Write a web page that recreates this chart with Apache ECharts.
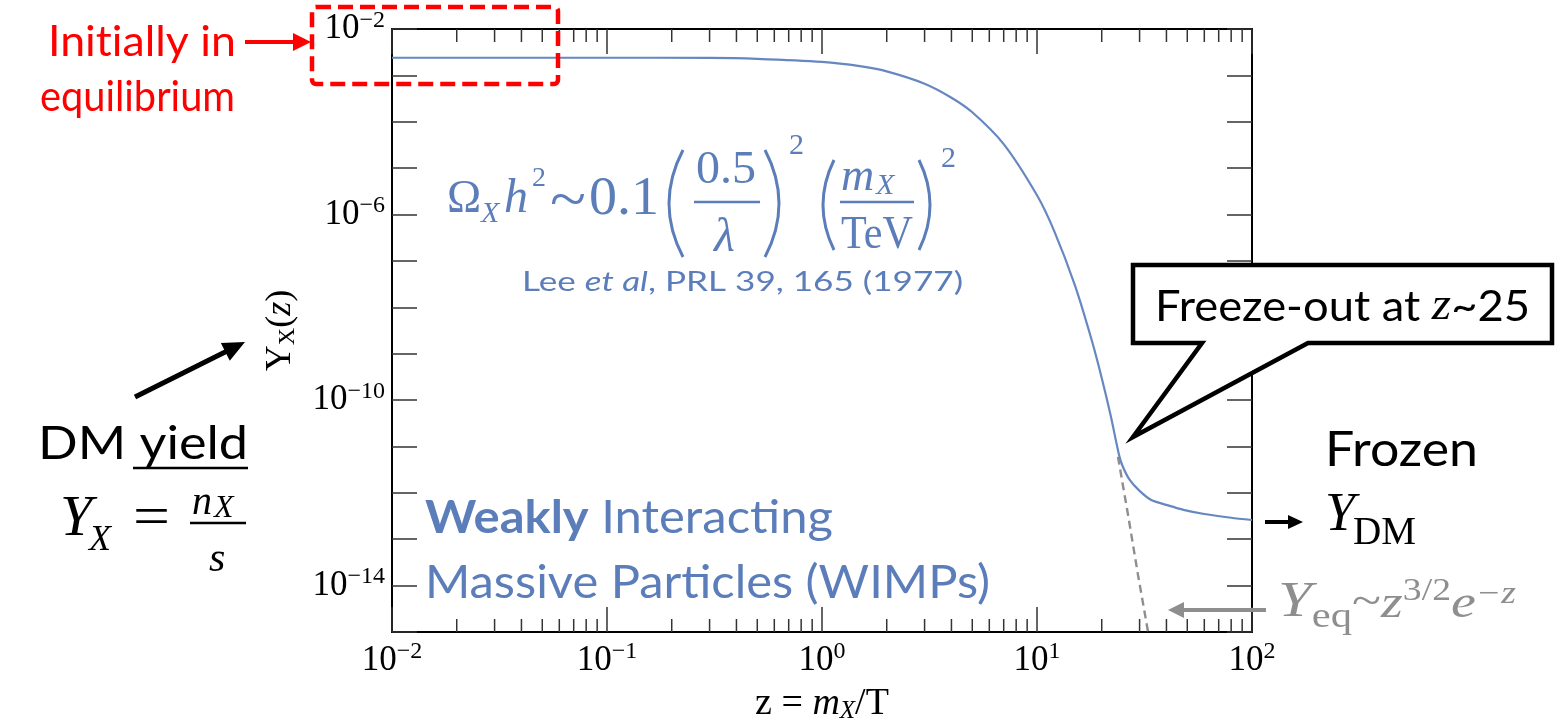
<!DOCTYPE html>
<html>
<head>
<meta charset="utf-8">
<script src="https://cdn.jsdelivr.net/npm/echarts@6/dist/echarts.min.js"></script>
<style>
  html, body { margin: 0; padding: 0; background: #fff; }
  #chart { width: 1555px; height: 724px; }
</style>
</head>
<body>
<div id="chart"></div>
<script>
// ---------------- data ----------------
// Relic abundance Y_X(z) of a WIMP versus z = m_X / T
const yieldZ = [0.01, 0.03, 0.1, 0.3, 0.5, 1, 1.5, 2, 3, 4, 5, 7, 10, 12, 15, 18, 20, 22, 24, 25, 27, 30, 34, 40, 48, 60, 80, 100];
const yieldY = [2.4e-3, 2.4e-3, 2.4e-3, 2.38e-3, 2.27e-3, 1.95e-3, 1.58e-3, 1.22e-3, 6.6e-4, 3.3e-4, 1.6e-4, 3.3e-5, 2.6e-6, 4.5e-7, 3.0e-8, 1.9e-9, 3.0e-10, 4.7e-11, 7e-12, 3.8e-12, 1.9e-12, 1.1e-12, 7e-13, 5.5e-13, 4.3e-13, 3.5e-13, 2.9e-13, 2.6e-13];
// Equilibrium abundance tail (dashed)
const eqZ = [23.8, 26.5, 29.5, 33.5];
const eqY = [6e-12, 3.4e-13, 1.7e-14, 6e-16];
// Axis ranges and labelled decades
const zRange = [0.01, 100];
const yRange = [1e-15, 1e-2];
const yLabelExponents = [-2, -6, -10, -14];
// Minor tick positions on the z axis (2..9 times each decade)
const zMinorTicks = [
  0.02, 0.03, 0.04, 0.05, 0.06, 0.07, 0.08, 0.09,
  0.2, 0.3, 0.4, 0.5, 0.6, 0.7, 0.8, 0.9,
  2, 3, 4, 5, 6, 7, 8, 9,
  20, 30, 40, 50, 60, 70, 80, 90
];

// ---------------- styling helpers ----------------
const SERIF = '"Liberation Serif", "Times New Roman", serif';
const SANS = 'Lato, "Open Sans", sans-serif';
const BLUE = '#5b7db9';
const LINE_BLUE = '#6687c0';
const GREY = '#8e8e8e';
const RED = '#ff0000';

const mctx = document.createElement('canvas').getContext('2d');
function fontStr(p) {
  return (p.style || 'normal') + ' ' + (p.weight || 'normal') + ' ' + p.size + 'px ' + p.family;
}
// Lay out a run of text pieces left to right; optionally stretch to a given width
function runText(x, cy, pieces, color, targetWidth) {
  const widths = pieces.map(p => { mctx.font = fontStr(p); return mctx.measureText(p.t).width; });
  const natural = widths.reduce((a, b) => a + b, 0);
  const k = targetWidth ? targetWidth / natural : 1;
  let cx = x;
  const out = [];
  pieces.forEach((p, i) => {
    cx += (p.dx || 0);
    out.push({
      type: 'text', x: cx, y: cy + (p.dy || 0), scaleX: k, silent: true, z: 100,
      style: {
        text: p.t, fontSize: p.size, fontFamily: p.family,
        fontStyle: p.style || 'normal', fontWeight: p.weight || 'normal',
        fill: p.fill || color,
        align: 'left', textAlign: 'left', verticalAlign: 'middle', textVerticalAlign: 'middle'
      }
    });
    cx += widths[i] * k;
  });
  return out;
}
function seg(x1, y1, x2, y2, color, w, dash) {
  return { type: 'line', silent: true, z: 100, shape: { x1, y1, x2, y2 },
    style: { stroke: color, lineWidth: w, lineDash: dash || null } };
}
function arrow(x1, y1, x2, y2, color, w, headLen, headHalf) {
  const dx = x2 - x1, dy = y2 - y1, L = Math.hypot(dx, dy);
  const ux = dx / L, uy = dy / L;
  const bx = x2 - ux * headLen, by = y2 - uy * headLen;
  return [
    seg(x1, y1, bx + ux * 2, by + uy * 2, color, w),
    { type: 'polygon', silent: true, z: 100,
      shape: { points: [[x2, y2], [bx - uy * headHalf, by + ux * headHalf], [bx + uy * headHalf, by - ux * headHalf]] },
      style: { fill: color } }
  ];
}
// A tall bracket drawn as a quadratic curve; bulge < 0 opens to the right
function paren(xTop, yTop, yBot, bulge, color, w) {
  const cy = (yTop + yBot) / 2;
  return { type: 'bezierCurve', silent: true, z: 100,
    shape: { x1: xTop, y1: yTop, x2: xTop, y2: yBot, cpx1: xTop + 2 * bulge, cpy1: cy },
    style: { stroke: color, lineWidth: w, fill: null } };
}
function powLabel(v) {
  const e = Math.round(Math.log10(v));
  return '{b|10}{s|' + (e < 0 ? '\u2212' : '') + Math.abs(e) + '}';
}

// ---------------- annotations ----------------
const graphics = [];
// red dashed box and "Initially in equilibrium"
graphics.push({ type: 'rect', silent: true, z: 100,
  shape: { x: 312, y: 7, width: 246, height: 77, r: 4 },
  style: { fill: null, stroke: RED, lineWidth: 4.5, lineDash: [15, 7] } });
graphics.push(...arrow(245, 42, 311, 42, RED, 4, 18, 9));
graphics.push(...runText(48, 42, [{ t: 'Init\u200Cially in', size: 42, family: SANS }], RED, 188));
graphics.push(...runText(40, 97, [{ t: 'equilibrium', size: 42, family: SANS }], RED, 195));

// DM yield
graphics.push(...arrow(135, 397, 245, 342, '#000', 5, 22, 10));
graphics.push(...runText(38, 444, [{ t: 'DM yield', size: 46, family: SANS }], '#000', 210));
graphics.push(seg(133, 468, 248, 468, '#000', 2.5));
graphics.push(...runText(60, 520, [{ t: 'Y', size: 58, family: SERIF, style: 'italic' }], '#000'));
graphics.push(...runText(89, 541, [{ t: 'X', size: 36, family: SERIF, style: 'italic' }], '#000'));
graphics.push(...runText(133, 520, [{ t: '=', size: 56, family: SERIF }], '#000', 37));
graphics.push(...runText(192, 503, [{ t: 'n', size: 40, family: SERIF, style: 'italic' }], '#000'));
graphics.push(...runText(214, 509, [{ t: 'X', size: 32, family: SERIF, style: 'italic' }], '#000'));
graphics.push(seg(190, 523, 246, 523, '#000', 2.5));
graphics.push(...runText(209, 560, [{ t: 's', size: 42, family: SERIF, style: 'italic' }], '#000'));

// relic density formula
graphics.push(...runText(447, 200, [{ t: '\u03A9', size: 46, family: SERIF }], BLUE));
graphics.push(...runText(481, 214, [{ t: 'X', size: 30, family: SERIF, style: 'italic' }], BLUE));
graphics.push(...runText(504, 199, [{ t: 'h', size: 48, family: SERIF, style: 'italic' }], BLUE));
graphics.push(...runText(532, 179, [{ t: '2', size: 28, family: SERIF }], BLUE));
graphics.push(...runText(550, 203, [{ t: '~', size: 62, family: SERIF }], BLUE, 36));
graphics.push(...runText(589, 200, [{ t: '0.1', size: 54, family: SERIF }], BLUE, 70));
graphics.push(paren(683, 150, 257, -14, BLUE, 3));
graphics.push(...runText(696, 171, [{ t: '0.5', size: 46, family: SERIF }], BLUE, 60));
graphics.push(seg(694, 202, 760, 202, BLUE, 2.5));
graphics.push(...runText(714, 238, [{ t: '\u03BB', size: 48, family: SERIF, style: 'italic' }], BLUE));
graphics.push(paren(765, 150, 257, 14, BLUE, 3));
graphics.push(...runText(789, 146, [{ t: '2', size: 30, family: SERIF }], BLUE));
graphics.push(paren(834, 160, 250, -11, BLUE, 3));
graphics.push(...runText(841, 178, [{ t: 'm', size: 46, family: SERIF, style: 'italic' }], BLUE));
graphics.push(...runText(876, 186, [{ t: 'X', size: 30, family: SERIF, style: 'italic' }], BLUE));
graphics.push(seg(840, 202, 914, 202, BLUE, 2.5));
graphics.push(...runText(841, 236, [{ t: 'TeV', size: 46, family: SERIF }], BLUE, 72));
graphics.push(paren(919, 160, 250, 11, BLUE, 3));
graphics.push(...runText(941, 159, [{ t: '2', size: 30, family: SERIF }], BLUE));
graphics.push(...runText(522, 282, [
  { t: 'Lee ', size: 27, family: SANS },
  { t: 'et al', size: 27, family: SANS, style: 'italic' },
  { t: ', PRL 39, 165 (1977)', size: 27, family: SANS }
], BLUE, 441));

// WIMP caption
graphics.push(...runText(425, 518, [
  { t: 'Weakly', size: 46, family: SANS, weight: 'bold' },
  { t: ' Interacting', size: 46, family: SANS }
], BLUE, 408));
graphics.push(...runText(425, 583, [{ t: 'Massive Particles (WIMPs)', size: 46, family: SANS }], BLUE, 565));

// freeze-out callout
graphics.push({ type: 'polygon', silent: true, z: 99,
  shape: { points: [[1133, 265], [1552, 265], [1552, 343], [1308, 343], [1133, 437], [1202, 343], [1133, 343]] },
  style: { fill: '#fff', stroke: '#000', lineWidth: 4.5, lineJoin: 'miter' } });
graphics.push(...runText(1155, 307, [
  { t: 'Freeze-out at ', size: 42, family: SANS },
  { t: 'z', size: 46, family: SERIF, style: 'italic' },
  { t: '~25', size: 42, family: SANS }
], '#000', 375));

// frozen-out abundance
graphics.push(...runText(1325, 451, [{ t: 'Frozen', size: 48, family: SANS }], '#000', 153));
graphics.push(...arrow(1265, 522, 1303, 522, '#000', 4, 15, 7));
graphics.push(...runText(1325, 516, [{ t: 'Y', size: 54, family: SERIF, style: 'italic' }], '#000'));
graphics.push(...runText(1353, 533, [{ t: 'DM', size: 40, family: SERIF }], '#000', 63));

// equilibrium formula
graphics.push(...arrow(1266, 610, 1168, 610, GREY, 4, 16, 8));
graphics.push(...runText(1278, 603, [
  { t: 'Y', size: 50, family: SERIF, style: 'italic' },
  { t: 'eq', size: 35, family: SERIF, dy: 15 },
  { t: '~', size: 44, family: SERIF },
  { t: 'z', size: 46, family: SERIF, style: 'italic', dy: 2 },
  { t: '3/2', size: 31, family: SERIF, dy: -11 },
  { t: 'e', size: 46, family: SERIF, style: 'italic', dy: 2 },
  { t: '\u2212z', size: 31, family: SERIF, style: 'italic', dy: -8 }
], GREY, 238));

// ---------------- chart ----------------
const chart = echarts.init(document.getElementById('chart'), null, { renderer: 'canvas' });

const axisLineStyle = { show: true, onZero: false, lineStyle: { color: '#000', width: 2 } };
const tickStyle = { color: '#333', width: 1.5 };
const xRich = {
  b: { fontFamily: SERIF, fontSize: 35, color: '#000' },
  s: { fontFamily: SERIF, fontSize: 24, color: '#000', padding: [0, 0, 18, 0] }
};
const yRich = {
  b: { fontFamily: SERIF, fontSize: 35, color: '#000' },
  s: { fontFamily: SERIF, fontSize: 24, color: '#000', padding: [0, 0, 17, 0] }
};

chart.setOption({
  animation: false,
  backgroundColor: '#fff',
  grid: { left: 392, right: 303, top: 29, bottom: 92, containLabel: false, outerBoundsMode: 'none' },
  xAxis: [
    {
      type: 'log', logBase: 10, min: zRange[0], max: zRange[1], interval: 1, position: 'bottom',
      axisLine: axisLineStyle,
      axisTick: { show: true, inside: true, length: 25, lineStyle: tickStyle },
      splitLine: { show: false },
      axisLabel: { margin: 8, fontSize: 35, fontFamily: SERIF, color: '#000', formatter: powLabel, rich: xRich },
      name: '{r|z = }{i|m}{sub|X}{r|/T}',
      nameLocation: 'middle', nameGap: 53,
      nameTextStyle: { fontSize: 38, fontFamily: SERIF, color: '#000', rich: {
        r: { fontFamily: SERIF, fontSize: 38, color: '#000' },
        i: { fontFamily: SERIF, fontSize: 38, fontStyle: 'italic', color: '#000' },
        sub: { fontFamily: SERIF, fontSize: 25, fontStyle: 'italic', color: '#000', padding: [14, 0, 0, 0] }
      } }
    },
    {
      type: 'log', logBase: 10, min: zRange[0], max: zRange[1], interval: 1, position: 'top',
      axisLine: axisLineStyle,
      axisTick: { show: true, inside: true, length: 25, lineStyle: tickStyle },
      splitLine: { show: false },
      axisLabel: { show: false }
    }
  ],
  yAxis: [
    {
      type: 'log', logBase: 10, min: yRange[0], max: yRange[1], interval: 1, position: 'left',
      axisLine: axisLineStyle,
      axisTick: { show: true, inside: true, length: 25, lineStyle: tickStyle },
      splitLine: { show: false },
      axisLabel: {
        margin: 7, fontSize: 35, fontFamily: SERIF, color: '#000',
        formatter: v => yLabelExponents.includes(Math.round(Math.log10(v))) ? powLabel(v) : '',
        rich: yRich
      },
      name: '{r|Y}{sub|X}{r|(}{i|z}{r|)}',
      nameLocation: 'middle', nameGap: 92, nameRotate: 90,
      nameTextStyle: { fontSize: 36, fontFamily: SERIF, color: '#000', rich: {
        r: { fontFamily: SERIF, fontSize: 36, color: '#000' },
        i: { fontFamily: SERIF, fontSize: 36, fontStyle: 'italic', color: '#000' },
        sub: { fontFamily: SERIF, fontSize: 24, color: '#000', padding: [14, 0, 0, 0] }
      } }
    },
    {
      type: 'log', logBase: 10, min: yRange[0], max: yRange[1], interval: 1, position: 'right',
      axisLine: axisLineStyle,
      axisTick: { show: true, inside: true, length: 25, lineStyle: tickStyle },
      splitLine: { show: false },
      axisLabel: { show: false }
    }
  ],
  series: [
    {
      name: 'Y_eq', type: 'line', xAxisIndex: 0, yAxisIndex: 0,
      data: eqZ.map((z, i) => [z, eqY[i]]),
      showSymbol: false, silent: true, z: 2,
      lineStyle: { color: GREY, width: 2.4, type: [8, 5] }
    },
    {
      name: 'Y_X', type: 'line', xAxisIndex: 0, yAxisIndex: 0,
      data: yieldZ.map((z, i) => [z, yieldY[i]]),
      showSymbol: false, silent: true, smooth: 0.25, z: 3,
      lineStyle: { color: LINE_BLUE, width: 2.2 }
    },
    {
      name: 'minor ticks', type: 'custom', xAxisIndex: 0, yAxisIndex: 0,
      data: zMinorTicks.map(z => [z, 1e-8]),
      silent: true, clip: false, z: 4,
      renderItem: (params, api) => {
        const z = api.value(0);
        const bot = api.coord([z, yRange[0]]);
        const top = api.coord([z, yRange[1]]);
        return { type: 'group', children: [
          { type: 'line', shape: { x1: bot[0], y1: bot[1], x2: bot[0], y2: bot[1] - 13 }, style: { stroke: '#333', lineWidth: 1.5 } },
          { type: 'line', shape: { x1: top[0], y1: top[1], x2: top[0], y2: top[1] + 13 }, style: { stroke: '#333', lineWidth: 1.5 } }
        ] };
      }
    }
  ],
  graphic: graphics
});
</script>
</body>
</html>
